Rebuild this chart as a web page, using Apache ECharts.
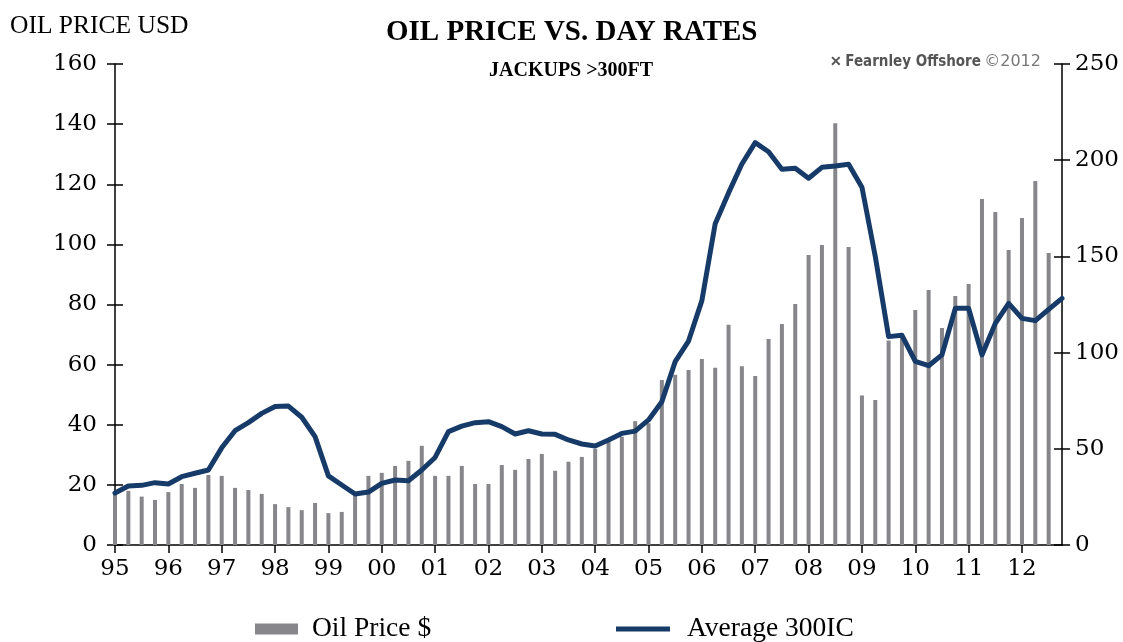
<!DOCTYPE html>
<html>
<head>
<meta charset="utf-8">
<script src="https://cdn.jsdelivr.net/npm/echarts@6/dist/echarts.min.js"></script>
<style>
  html, body { margin: 0; padding: 0; background: #fff; }
  #main { width: 1123px; height: 642px; }
</style>
</head>
<body>
<div id="main"></div>
<script>
// 年份标签 (每年四个季度)
const years = ['95','96','97','98','99','00','01','02','03','04','05','06','07','08','09','10','11','12'];
const quarters = ['Q1','Q2','Q3','Q4'];

// 油价 (左轴, USD), 按季度
const oilPrice = [
  17, 18, 16.1, 15,
  17.6, 20.3, 19, 23.3,
  23, 19, 18.3, 17,
  13.6, 12.6, 11.6, 14,
  10.6, 11, 16.5, 23,
  24, 26.3, 28, 33,
  23, 23, 26.3, 20.3,
  20.3, 26.6, 25, 28.6,
  30.3, 24.7, 27.7, 29.3,
  32, 34.4, 36, 41.2,
  40.5, 54.9, 56.6, 58.2,
  61.9, 59, 73.3, 59.5,
  56.2, 68.5, 73.5, 80.2,
  96.5, 99.8, 140.3, 99.1,
  49.7, 48.2, 68, 69,
  78.2, 84.8, 72.2, 82.8,
  86.8, 115.1, 110.8, 98.1,
  108.8, 121.1, 97.1, '-'
];

// 日费率 (右轴), Average 300IC
const dayRate = [
  27, 30.7, 31, 32.4,
  31.7, 35.5, 37.3, 39,
  50.5, 59.4, 63.6, 68.4,
  72, 72.2, 66.4, 56.3,
  35.9, 31.2, 26.5, 27.5,
  32, 33.8, 33.4, 39,
  45.5, 58.9, 61.8, 63.6,
  64.1, 61.5, 57.7, 59.4,
  57.7, 57.5, 54.6, 52.5,
  51.5, 54.6, 58, 59.2,
  65, 74.5, 95.3, 106,
  127, 167, 183, 198,
  209.1, 204.4, 195.3, 195.8,
  190.6, 196.3, 197, 197.9,
  186, 150, 108.3, 109,
  95.5, 93.2, 98.8, 123,
  123, 98.8, 115.2, 125.6,
  117.8, 116.6, 122.5, 128.2
];

const leftTicks = { min: 0, max: 160, interval: 20 };
const rightTicks = { min: 0, max: 250, interval: 50 };

// 季度分类
const categories = [];
years.forEach(y => quarters.forEach(q => categories.push(y + q)));

const serif = 'Liberation Serif';
const tickFont = 'DejaVu Serif';
const axisColor = '#000';

function tickAxisY(pos, range, inside, withLabel) {
  return {
    type: 'value',
    position: pos,
    min: range.min,
    max: range.max,
    interval: range.interval,
    splitLine: { show: false },
    axisLine: { show: withLabel, lineStyle: { color: axisColor, width: 1.5 } },
    axisTick: { show: true, inside: inside, length: 8, lineStyle: { color: axisColor, width: 1.5 } },
    axisLabel: {
      show: withLabel,
      fontFamily: tickFont,
      fontSize: 23,
      color: '#000',
      margin: pos === 'left' ? 18 : 13
    }
  };
}

var myChart = echarts.init(document.getElementById('main'));

var option = {
  backgroundColor: '#fff',
  animation: false,
  title: [
    {
      text: 'OIL PRICE VS. DAY RATES',
      left: 381,
      top: 13,
      textStyle: { fontFamily: serif, fontWeight: 'bold', fontSize: 29, color: '#000' }
    },
    {
      text: 'JACKUPS >300FT',
      left: 484,
      top: 56,
      textStyle: { fontFamily: serif, fontWeight: 'bold', fontSize: 20, color: '#000' }
    },
    {
      text: 'OIL PRICE USD',
      left: 5,
      top: 8,
      textStyle: { fontFamily: serif, fontWeight: 'normal', fontSize: 25.5, color: '#000' }
    }
  ],
  graphic: [
    {
      type: 'text',
      left: 830,
      top: 54,
      style: {
        text: '{i|✕} {b|Fearnley Offshore} {c|©2012}',
        rich: {
          i: { fontSize: 14, fontWeight: 'bold', fill: '#555' },
          b: { fontFamily: 'DejaVu Sans Condensed', fontWeight: 'bold', fontSize: 15, fill: '#555' },
          c: { fontFamily: 'DejaVu Sans', fontSize: 16, fill: '#777' }
        }
      }
    }
  ],
  legend: [
    {
      data: ['Oil Price $'],
      left: 255,
      top: 615,
      padding: 0,
      icon: 'rect',
      itemWidth: 43,
      itemHeight: 11,
      textStyle: { fontFamily: serif, fontSize: 27.5, color: '#000', padding: [0, 0, 0, 9] }
    },
    {
      data: ['Average 300IC'],
      left: 616,
      top: 615,
      padding: 0,
      icon: 'rect',
      itemWidth: 54,
      itemHeight: 5,
      textStyle: { fontFamily: serif, fontSize: 27.5, color: '#000', padding: [0, 0, 0, 12] }
    }
  ],
  grid: { left: 115, right: 61, top: 64, bottom: 97 },
  xAxis: [
    {
      type: 'category',
      data: categories,
      boundaryGap: false,
      axisLine: { lineStyle: { color: axisColor, width: 1.5 } },
      axisTick: { interval: 3, length: 8, lineStyle: { color: axisColor, width: 1.5 } },
      axisLabel: {
        interval: 3,
        formatter: v => v.slice(0, 2),
        fontFamily: tickFont,
        fontSize: 23,
        color: '#000',
        margin: 13
      },
      splitLine: { show: false }
    },
    {
      type: 'category',
      data: categories,
      boundaryGap: false,
      position: 'bottom',
      axisLine: { show: false },
      axisTick: { interval: 3, inside: true, length: 8, lineStyle: { color: axisColor, width: 1.5 } },
      axisLabel: { show: false },
      splitLine: { show: false }
    }
  ],
  yAxis: [
    tickAxisY('left', leftTicks, false, true),
    tickAxisY('left', leftTicks, true, false),
    tickAxisY('right', rightTicks, false, true),
    tickAxisY('right', rightTicks, true, false)
  ],
  series: [
    {
      name: 'Oil Price $',
      type: 'bar',
      xAxisIndex: 0,
      yAxisIndex: 0,
      barWidth: 4,
      itemStyle: { color: '#87878b' },
      data: oilPrice,
      z: 2
    },
    {
      name: 'Average 300IC',
      type: 'line',
      xAxisIndex: 0,
      yAxisIndex: 2,
      showSymbol: false,
      symbol: 'none',
      lineStyle: { color: '#173b69', width: 5, join: 'round', cap: 'round' },
      itemStyle: { color: '#173b69' },
      data: dayRate,
      z: 3
    }
  ]
};

myChart.setOption(option);
</script>
</body>
</html>
